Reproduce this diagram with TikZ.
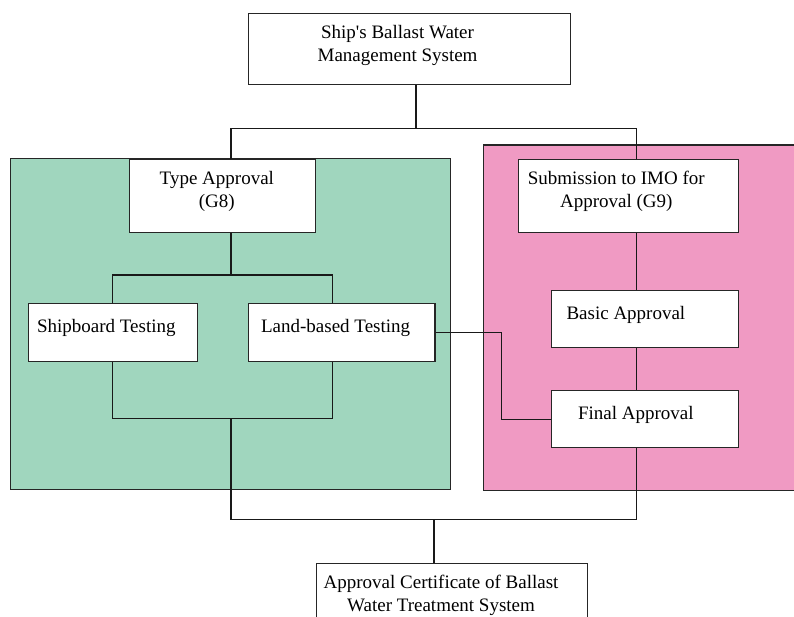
\documentclass[tikz,border=0pt]{standalone}
\usepackage{fontspec}
\setmainfont{Liberation Serif}
\usetikzlibrary{positioning}

\definecolor{typegreen}{RGB}{160,214,190}
\definecolor{imopink}{RGB}{240,154,195}

% text of a box: baseline(s) centred on the box, optional right padding
\newcommand{\boxlines}[2][0pt]{\raisebox{0pt}[0pt][0pt]{\begin{tabular}{@{}c@{}}#2\end{tabular}\hspace*{#1}}}

\begin{document}
\begin{tikzpicture}[
  x=1pt, y=-1pt,
  font=\fontsize{19}{23}\selectfont,
  panel/.style={draw=black!85, line width=1.1pt},
  box/.style={draw=black!85, fill=white, line width=1.1pt, inner sep=0pt, anchor=north west},
  link/.style={draw=black!90, line width=1.1pt}
]
\useasboundingbox (0,0) rectangle (794,616);

% coloured panels (the pink one runs off the right edge)
\path[panel, fill=typegreen] (10.7,158.3) rectangle (450.7,489.3);
\fill[imopink] (483.3,145) rectangle (830,490.7);
\path[panel] (830,145) -- (483.3,145) -- (483.3,490.7) -- (830,490.7);

% boxes
\node[box, minimum width=322, minimum height=71] (bwms) at (248,13.3)
  {\boxlines[24pt]{Ship\textquotesingle s Ballast Water\\Management System}};
\node[box, minimum width=186, minimum height=72.7] (type) at (129.3,159)
  {\boxlines[12pt]{Type Approval\\(G8)}};
\node[box, minimum width=220, minimum height=72.7] (submit) at (517.7,159)
  {\boxlines[24pt]{Submission to IMO for\\Approval (G9)}};
\node[box, minimum width=169, minimum height=57.7] (ship) at (28.3,303.3)
  {\boxlines[14pt]{Shipboard Testing}};
\node[box, minimum width=186.7, minimum height=57.7] (land) at (247.7,303.3)
  {\boxlines[12pt]{Land-based Testing}};
\node[box, minimum width=186.7, minimum height=57.3] (basic) at (551,290)
  {\boxlines[38pt]{Basic Approval}};
\node[box, minimum width=186.7, minimum height=57.3] (final) at (551,390)
  {\boxlines[18pt]{Final Approval}};
\node[box, minimum width=271, minimum height=72] (cert) at (316,563.3)
  {\boxlines[22pt]{Approval Certificate of Ballast\\Water Treatment System}};

% junction points
\coordinate (split) at (416,128.3);
\coordinate (topl) at (231,128.3);
\coordinate (topr) at (636.7,128.3);
\coordinate (tsplit) at (231,275);
\coordinate (tl) at (112.7,275);
\coordinate (tr) at (332.3,275);
\coordinate (bl) at (112.7,418.7);
\coordinate (br) at (332.3,418.7);
\coordinate (tjoin) at (231,418.7);
\coordinate (botl) at (231,519.3);
\coordinate (botr) at (636.7,519.3);
\coordinate (botc) at (434,519.3);
\coordinate (bend) at (501.7,332.3);

% connectors
\draw[link] (bwms.south -| split) -- (split);
\draw[link] (type.north -| topl) -- (topl) -- (topr) -- (submit.north -| topr);
\draw[link] (type.south -| tsplit) -- (tsplit);
\draw[link] (ship.north -| tl) -- (tl) -- (tr) -- (land.north -| tr);
\draw[link] (ship.south -| bl) -- (bl) -- (br) -- (land.south -| br);
\draw[link] (tjoin) -- (botl) -- (botr) -- (final.south -| botr);
\draw[link] (botc) -- (cert.north -| botc);
\draw[link] (submit.south -| topr) -- (basic.north -| topr);
\draw[link] (basic.south -| topr) -- (final.north -| topr);
\draw[link] (land.east) -- (land.east -| bend) |- (final.west);
\end{tikzpicture}
\end{document}
